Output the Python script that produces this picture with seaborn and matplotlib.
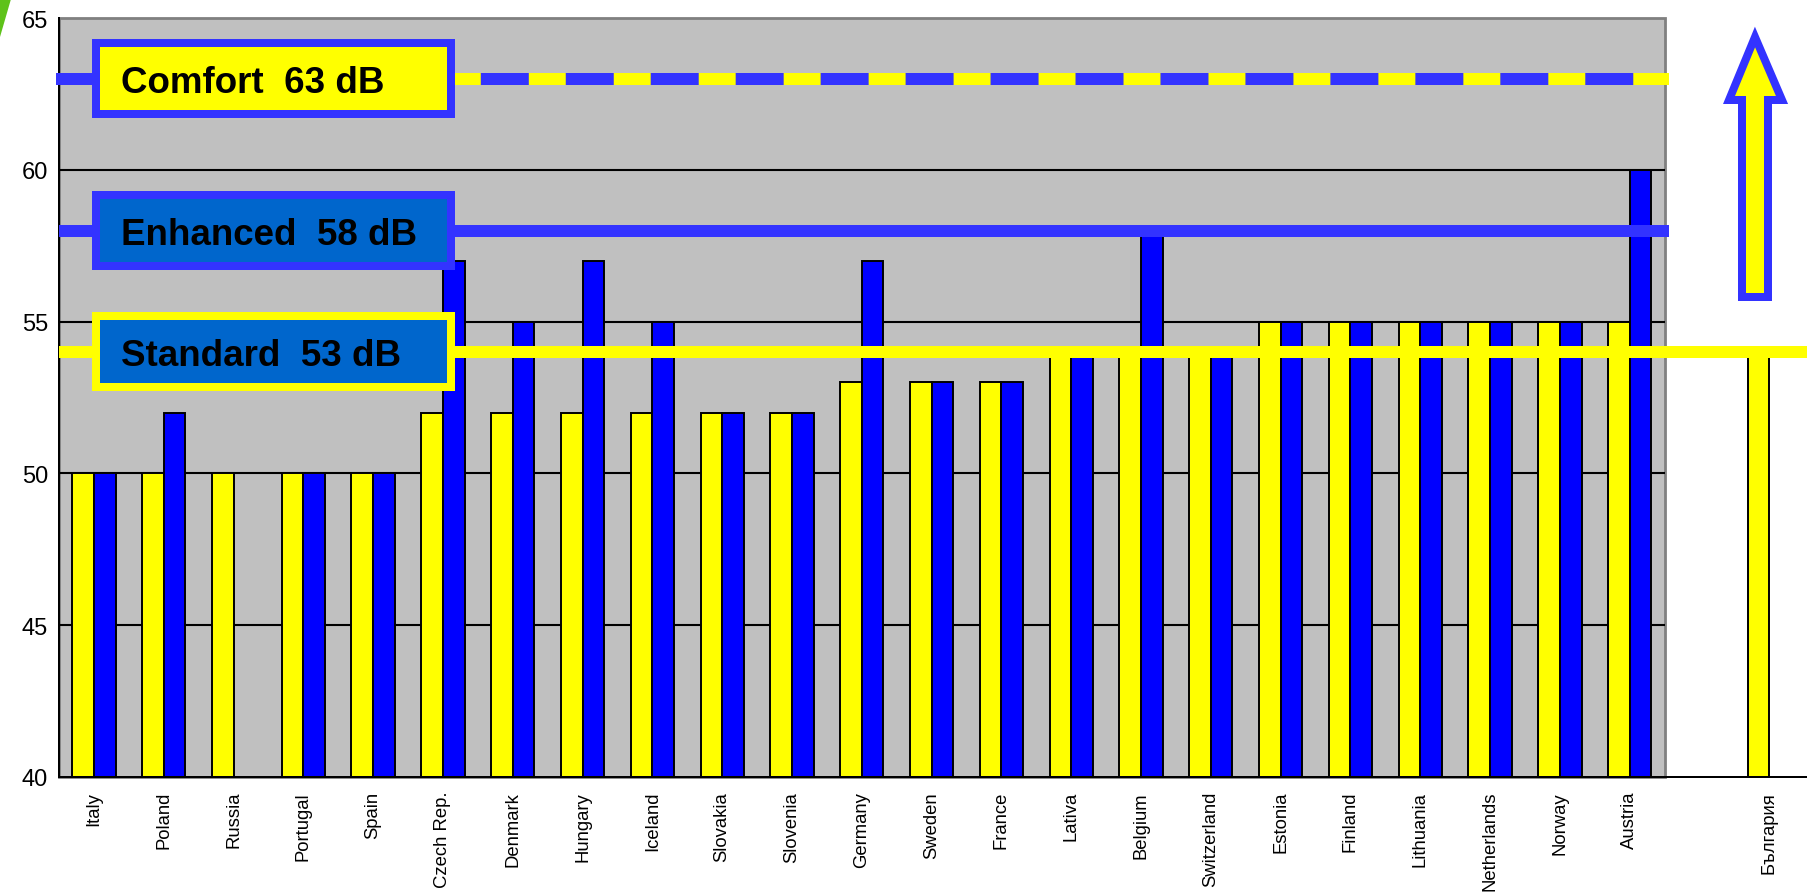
import numpy as np
import pandas as pd
import matplotlib
matplotlib.use("Agg")
import matplotlib.pyplot as plt
from matplotlib.patches import Rectangle, Polygon
import seaborn as sns

# data
countries = ["Italy", "Poland", "Russia", "Portugal", "Spain", "Czech Rep.", "Denmark",
             "Hungary", "Iceland", "Slovakia", "Slovenia", "Germany", "Sweden", "France",
             "Lativa", "Belgium", "Switzerland", "Estonia", "Finland", "Lithuania",
             "Netherlands", "Norway", "Austria", "", "България"]
values_1 = [50, 50, 50, 50, 50, 52, 52, 52, 52, 52, 52, 53, 53, 53,
            54, 54, 54, 55, 55, 55, 55, 55, 55, np.nan, 54]
values_2 = [50, 52, np.nan, 50, 50, 57, 55, 57, 55, 52, 52, 57, 53, 53,
            54, 58, 54, 55, 55, 55, 55, 55, 60, np.nan, np.nan]
level_names = ["Comfort  63 dB", "Enhanced  58 dB", "Standard  53 dB"]
level_values = [63, 58, 54]
y_ticks = [40, 45, 50, 55, 60, 65]

df = pd.DataFrame({
    "country": countries * 2,
    "value": values_1 + values_2,
    "series": ["1"] * len(countries) + ["2"] * len(countries),
})

sns.set_style("white")
plt.rcParams["font.family"] = ["Liberation Sans", "DejaVu Sans"]

W, H = 1807, 895
fig = plt.figure(figsize=(W / 100, H / 100), dpi=100)
ax = fig.add_axes([59 / W, (H - 778) / H, (W - 59) / W, (778 - 19) / H])

YEL = "#FFFF00"
BLU = "#0000FF"
LBLU = "#3333FF"
BOXBLU = "#0066CC"

# gray plot area for the 23 countries
ax.add_patch(Rectangle((-0.5, 40), 23, 25, facecolor="#C0C0C0", edgecolor="#808080",
                       linewidth=2, zorder=0.5, clip_on=False))
ax.hlines([45, 50, 55, 60], -0.5, 22.5, color="black", linewidth=1.5, zorder=0.8)

sns.barplot(data=df, x="country", y="value", hue="series", order=countries,
            hue_order=["1", "2"], palette={"1": YEL, "2": BLU}, saturation=1,
            width=0.62, dodge=True, edgecolor="black", linewidth=1.4, errorbar=None,
            legend=False, ax=ax, zorder=2)

ax.set_xlim(-0.5, 24.54)
ax.set_ylim(40, 65)

# level lines
lw = 8.64
ax.plot([-0.543, 22.57], [level_values[0]] * 2, color=YEL, linewidth=lw,
        solid_capstyle="butt", zorder=3, clip_on=False)
ax.plot([-0.543, 22.57], [level_values[0]] * 2, color=LBLU, linewidth=lw,
        dashes=(4.0, 3.08), dash_capstyle="butt", zorder=3.1, clip_on=False)
ax.plot([-0.5, 22.57], [level_values[1]] * 2, color=LBLU, linewidth=lw,
        solid_capstyle="butt", zorder=3, clip_on=False)
ax.plot([-0.5, 24.54], [level_values[2]] * 2, color=YEL, linewidth=lw,
        solid_capstyle="butt", zorder=3, clip_on=False)

# label boxes
box_style = [(LBLU, YEL), (LBLU, BOXBLU), (YEL, BOXBLU)]
for name, val, (ec, fc) in zip(level_names, level_values, box_style):
    ax.add_patch(Rectangle((0.03, val - 1.17), 5.086, 2.34, facecolor=fc, edgecolor=ec,
                           linewidth=5.76, zorder=4, clip_on=False))
    ax.text(0.388, val - 0.445, name, fontsize=26.5, fontweight="bold", color="black",
            ha="left", va="baseline", zorder=5)

# axes styling
for s in ["top", "right"]:
    ax.spines[s].set_visible(False)
for s in ["left", "bottom"]:
    ax.spines[s].set_color("black")
    ax.spines[s].set_linewidth(1.44)
ax.set_xlabel("")
ax.set_ylabel("")
ax.set_yticks(y_ticks)
ax.set_yticklabels([str(t) for t in y_ticks], fontsize=17)
ax.tick_params(axis="y", direction="out", length=5, width=1.4, pad=3, colors="black")
ax.set_xticks(range(len(countries)))
ax.set_xticklabels(countries, rotation=90, fontsize=13.3)
ax.set_xticks(np.arange(-0.5, 23.0, 1), minor=True)
ax.tick_params(axis="x", which="major", length=0, pad=10, colors="black")
ax.tick_params(axis="x", which="minor", direction="out", length=4, width=1.4, colors="black")

# up arrow on the right
arrow_px = [(1742, 298), (1742, 101), (1729, 101), (1755, 38), (1782, 101),
            (1768, 101), (1768, 298)]
fig.add_artist(Polygon([(x / W, 1 - y / H) for x, y in arrow_px], closed=True,
                       facecolor=YEL, edgecolor=LBLU, linewidth=5.76, joinstyle="miter",
                       transform=fig.transFigure))

# green corner
fig.add_artist(Polygon([(0, 1), (11 / W, 1), (0, 1 - 38 / H)], closed=True,
                       facecolor="#5EC21A", edgecolor="none", transform=fig.transFigure))

fig.savefig("out.png", dpi=100)
